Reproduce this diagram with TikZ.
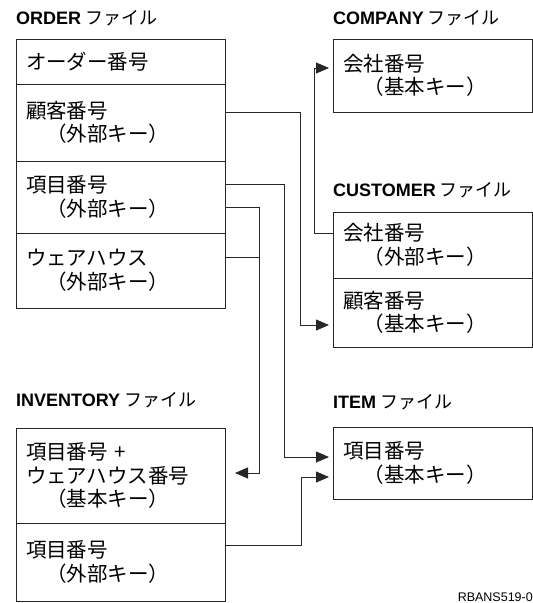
\documentclass[tikz,border=0pt]{standalone}
\usepackage{fontspec}
\setmainfont{Noto Sans CJK JP}
\newfontfamily\arialfont{Liberation Sans}
\usetikzlibrary{positioning,arrows.meta}

\begin{document}
\begin{tikzpicture}[x=1pt,y=1pt,
    filetitle/.style={anchor=west, inner sep=0pt, font=\fontsize{18}{20}\selectfont},
    fieldbox/.style={draw=black!85, line width=0.8pt, outer sep=0pt, inner xsep=10pt,
        anchor=north west, align=left, font=\fontsize{20.5}{23.5}\selectfont},
    leftcol/.style={minimum width=209pt, text width=189pt},
    rightcol/.style={minimum width=199pt, text width=179pt},
    keylink/.style={draw=black!85, line width=0.8pt, -{Triangle[length=13pt,width=11pt]}, shorten >=4pt}]
    \useasboundingbox (0,0) rectangle (533,-603);

    % ORDER file
    \node[filetitle] (ordertitle) at (16,-18) {{\arialfont\bfseries ORDER} ファイル};
    \node[fieldbox, leftcol, minimum height=45pt] (o1) at (16,-39) {オーダー番号};
    \node[fieldbox, leftcol, minimum height=77pt, below=0pt of o1] (o2) {顧客番号\\　（外部キー）};
    \node[fieldbox, leftcol, minimum height=72pt, below=0pt of o2] (o3) {項目番号\\　（外部キー）};
    \node[fieldbox, leftcol, minimum height=75pt, below=0pt of o3] (o4) {ウェアハウス\\　（外部キー）};

    % COMPANY file
    \node[filetitle] (comptitle) at (333,-18) {{\arialfont\bfseries COMPANY} ファイル};
    \node[fieldbox, rightcol, minimum height=73pt] (comp) at (333,-39) {会社番号\\　（基本キー）};

    % CUSTOMER file
    \node[filetitle] (custtitle) at (333,-190) {{\arialfont\bfseries CUSTOMER} ファイル};
    \node[fieldbox, rightcol, minimum height=66pt] (cu1) at (333,-212) {会社番号\\　（外部キー）};
    \node[fieldbox, rightcol, minimum height=69pt, below=0pt of cu1] (cu2) {顧客番号\\　（基本キー）};

    % INVENTORY file
    \node[filetitle] (invtitle) at (16,-400) {{\arialfont\bfseries INVENTORY} ファイル};
    \node[fieldbox, leftcol, minimum height=95pt] (inv1) at (16,-428) {項目番号 +\\ウェアハウス番号\\　（基本キー）};
    \node[fieldbox, leftcol, minimum height=78pt, below=0pt of inv1] (inv2) {項目番号\\　（外部キー）};

    % ITEM file
    \node[filetitle] (itemtitle) at (333,-402) {{\arialfont\bfseries ITEM} ファイル};
    \node[fieldbox, rightcol, minimum height=72pt] (item) at (333,-427) {項目番号\\　（基本キー）};

    \node[anchor=base east, inner sep=0pt, font=\arialfont\fontsize{12.5}{14}\selectfont] (figid) at (533,-601) {RBANS519-0};

    % key links
    \draw[keylink] ([yshift=-28pt]o2.north east) -- ++(75,0) |- ([yshift=-47pt]cu2.north west);
    \draw[keylink] ([yshift=-23pt]o3.north east) -- ++(59,0) |- ([yshift=-30pt]item.north west);
    \draw[keylink, shorten >=10pt] ([yshift=-46pt]o3.north east) -- ++(34,0) |- ([yshift=-45pt]inv1.north east);
    \draw[draw=black!85, line width=0.8pt] ([yshift=-24pt]o4.north east) -- ++(34,0);
    \draw[keylink] ([yshift=-22pt]inv2.north east) -- ++(76,0) |- ([yshift=-50pt]item.north west);
    \draw[keylink] ([yshift=-21pt]cu1.north west) -- ++(-19,0) |- ([yshift=-29pt]comp.north west);
\end{tikzpicture}
\end{document}
